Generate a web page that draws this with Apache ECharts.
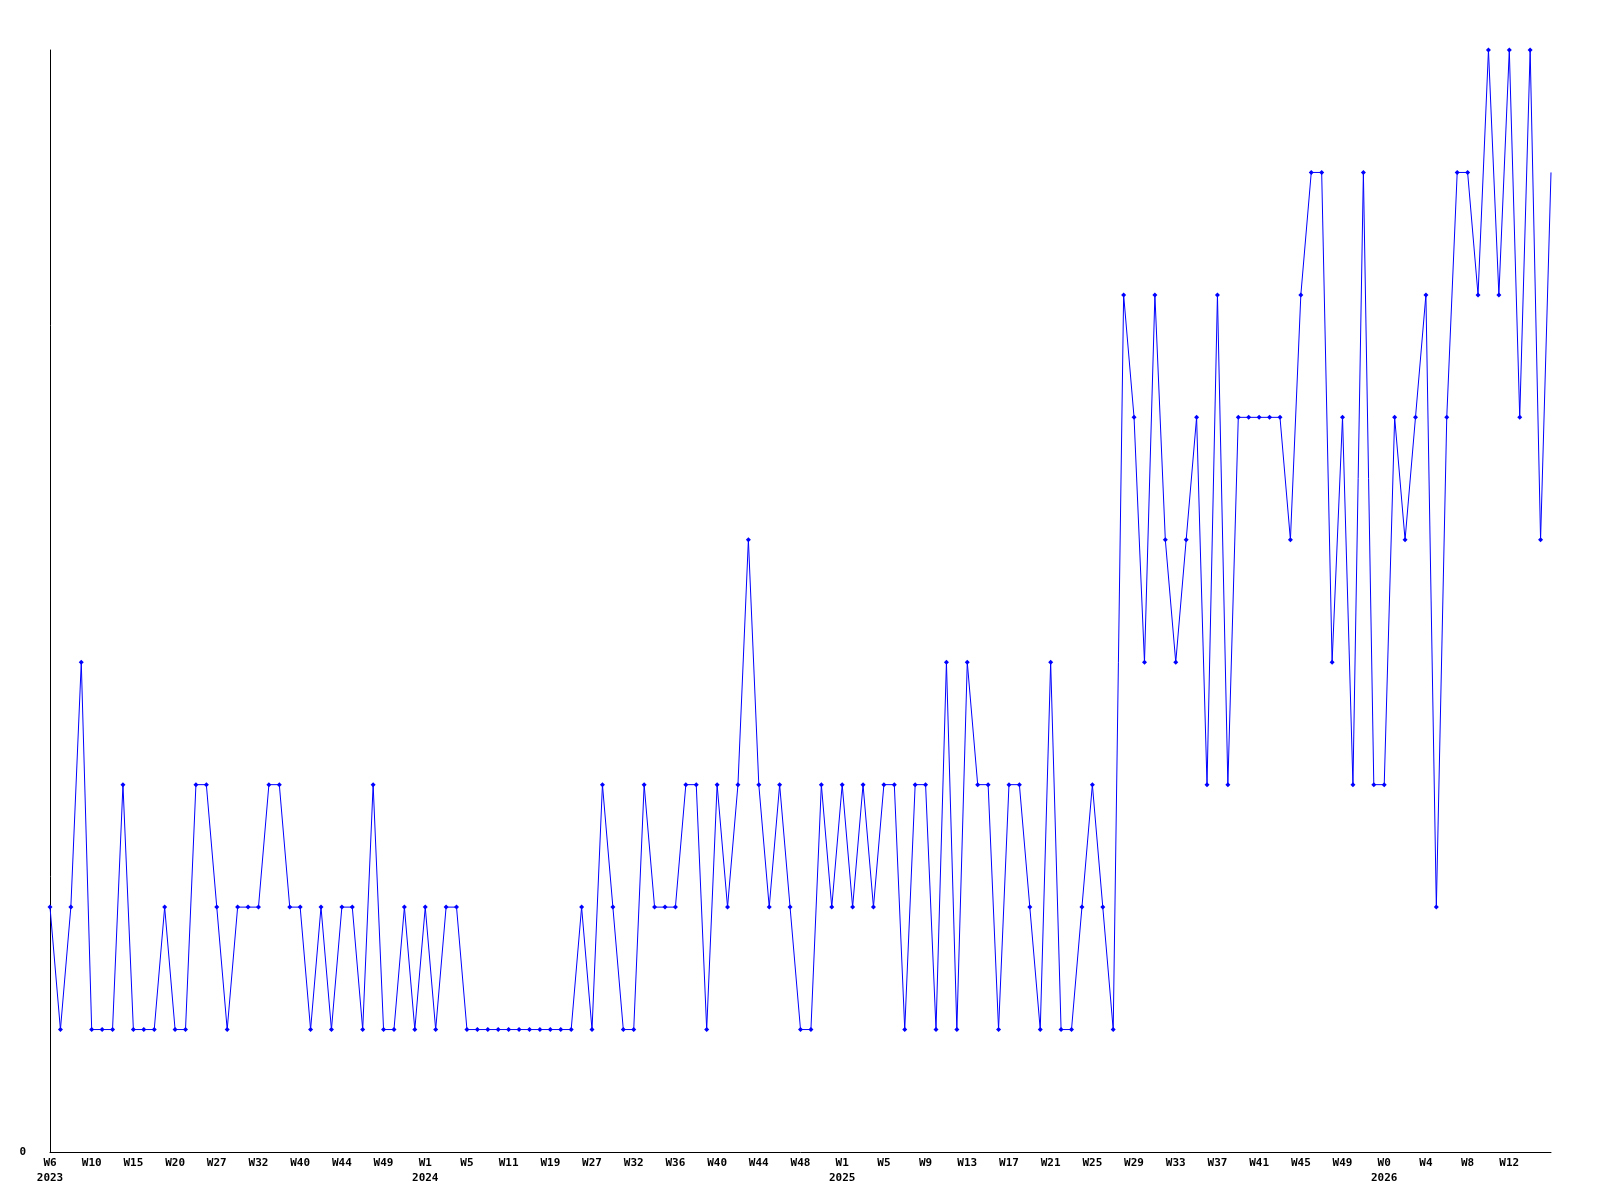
<!DOCTYPE html>
<html>
<head>
<meta charset="utf-8">
<style>
html,body{margin:0;padding:0;background:#fff;}
#chart{width:1600px;height:1200px;}
</style>
<script src="https://cdn.jsdelivr.net/npm/echarts@6/dist/echarts.min.js"></script>
</head>
<body>
<div id="chart"></div>
<script>
// Category weeks (year, week)
var categories = [
  "2023 W6","2023 W7","2023 W8","2023 W9","2023 W10","2023 W11","2023 W12","2023 W13",
  "2023 W15","2023 W16","2023 W17","2023 W18","2023 W20","2023 W22","2023 W23","2023 W25",
  "2023 W27","2023 W28","2023 W29","2023 W30","2023 W32","2023 W34","2023 W36","2023 W38",
  "2023 W40","2023 W41","2023 W42","2023 W43","2023 W44","2023 W45","2023 W46","2023 W47",
  "2023 W49","2023 W50","2023 W51","2023 W52",
  "2024 W1","2024 W2","2024 W3","2024 W4","2024 W5","2024 W6","2024 W8","2024 W9",
  "2024 W11","2024 W13","2024 W15","2024 W17","2024 W19","2024 W21","2024 W23","2024 W25",
  "2024 W27","2024 W28","2024 W30","2024 W31","2024 W32","2024 W33","2024 W34","2024 W35",
  "2024 W36","2024 W37","2024 W38","2024 W39","2024 W40","2024 W41","2024 W42","2024 W43",
  "2024 W44","2024 W45","2024 W46","2024 W47","2024 W48","2024 W49","2024 W50","2024 W51",
  "2025 W1","2025 W2","2025 W3","2025 W4","2025 W5","2025 W6","2025 W7","2025 W8",
  "2025 W9","2025 W10","2025 W11","2025 W12","2025 W13","2025 W14","2025 W15","2025 W16",
  "2025 W17","2025 W18","2025 W19","2025 W20","2025 W21","2025 W22","2025 W23","2025 W24",
  "2025 W25","2025 W26","2025 W27","2025 W28","2025 W29","2025 W30","2025 W31","2025 W32",
  "2025 W33","2025 W34","2025 W35","2025 W36","2025 W37","2025 W38","2025 W39","2025 W40",
  "2025 W41","2025 W42","2025 W43","2025 W44","2025 W45","2025 W46","2025 W47","2025 W48",
  "2025 W49","2025 W50","2025 W51","2025 W52",
  "2026 W0","2026 W1","2026 W2","2026 W3","2026 W4","2026 W5","2026 W6","2026 W7",
  "2026 W8","2026 W9","2026 W10","2026 W11","2026 W12","2026 W13","2026 W14","2026 W15",
  "2026 W16"
];

var values = [
  2,1,2,4,1,1,1,3,1,1,1,2,1,1,3,3,2,1,2,2,2,3,3,2,2,1,2,1,2,2,1,3,1,1,2,1,
  2,1,2,2,1,1,1,1,1,1,1,1,1,1,1,2,1,3,2,1,1,3,2,2,2,3,3,1,3,2,3,5,3,2,3,2,1,1,3,2,
  3,2,3,2,3,3,1,3,3,1,4,1,4,3,3,1,3,3,2,1,4,1,1,2,3,2,1,7,6,4,7,5,4,5,6,3,7,3,
  6,6,6,6,6,5,7,8,8,4,6,3,8,3,3,6,5,6,7,2,6,8,8,7,9,7,9,6,9,5,8
];

var yTickLabels = ["0"];

var seriesData = values.map(function (v, i) {
  if (i === values.length - 1) return { value: v, symbol: 'none' };
  return v;
});

var chart = echarts.init(document.getElementById('chart'), null, { renderer: 'canvas' });
var font = '"DejaVu Sans Mono", monospace';

chart.setOption({
  backgroundColor: '#ffffff',
  animation: false,
  grid: { left: 50, right: 49, top: 50, bottom: 48, containLabel: false },
  xAxis: {
    type: 'category',
    data: categories,
    boundaryGap: false,
    axisLine: { show: true, lineStyle: { color: '#000', width: 1 } },
    axisTick: { show: false },
    splitLine: { show: false },
    axisLabel: {
      interval: 3,
      margin: 4,
      color: '#000',
      fontFamily: font,
      fontWeight: 'bold',
      fontSize: 11,
      lineHeight: 15,
      showMaxLabel: false,
      formatter: function (val, idx) {
        var parts = val.split(' ');
        var year = parts[0], week = parts[1];
        var first = idx === 0 || categories[idx - 1].split(' ')[0] !== year;
        return first ? week + '\n' + year : week;
      }
    }
  },
  yAxis: {
    type: 'value',
    min: 0,
    max: 9,
    interval: 9,
    axisLine: { show: true, lineStyle: { color: '#000', width: 1 } },
    axisTick: { show: false },
    splitLine: { show: false },
    axisLabel: {
      margin: 24,
      color: '#000',
      fontFamily: font,
      fontWeight: 'bold',
      fontSize: 11,
      formatter: function (v) { return v === 0 ? yTickLabels[0] : ''; }
    }
  },
  series: [{
    type: 'line',
    data: seriesData,
    symbol: 'diamond',
    symbolSize: 5,
    showAllSymbol: true,
    itemStyle: { color: '#0000ff' },
    lineStyle: { color: '#0000ff', width: 1 }
  }]
});
</script>
</body>
</html>
